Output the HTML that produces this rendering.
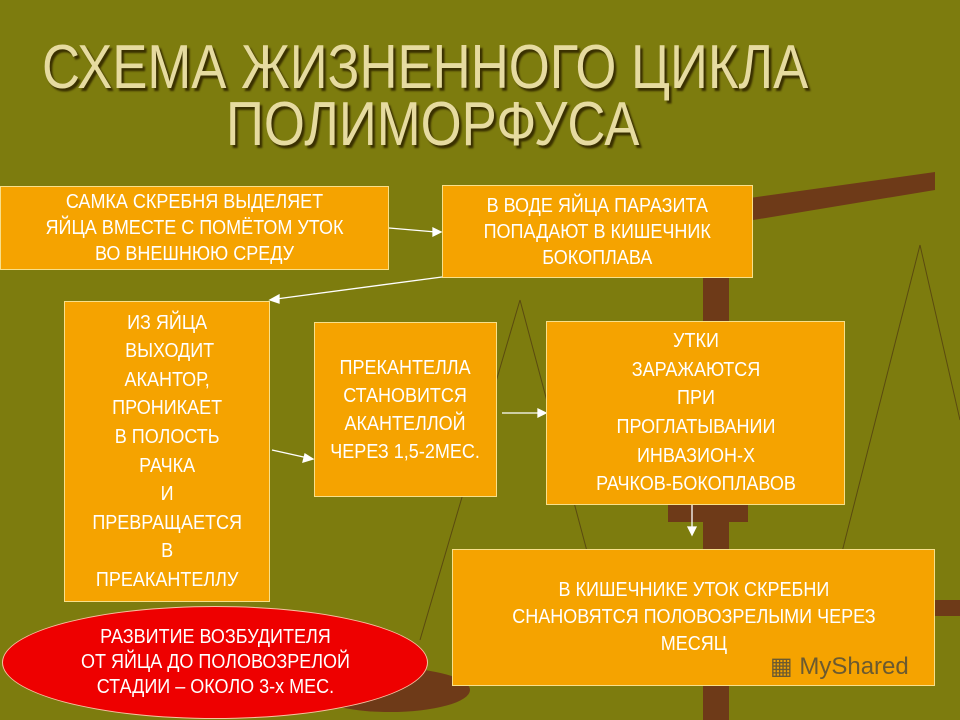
<!DOCTYPE html>
<html><head><meta charset="utf-8"><style>
body{margin:0;width:960px;height:720px;overflow:hidden;background:#7d7c0e;position:relative;font-family:"Liberation Sans",sans-serif;}
.t{position:absolute;color:#e6dba0;font-size:62px;line-height:62px;text-shadow:3px 3px 2px #3a3000;white-space:nowrap;transform:scaleX(.85);transform-origin:0 0;}
.b{position:absolute;background:#f5a300;border:1px solid #f8e08a;color:#fff;text-align:center;display:flex;align-items:center;justify-content:center;font-size:20px;line-height:28px;box-sizing:border-box;white-space:nowrap;}
.b span,.e span{display:inline-block;transform:scaleX(.9);}
</style></head><body>
<svg width="960" height="720" style="position:absolute;left:0;top:0">
<polygon points="700,205 935,172 935,190 705,228" fill="#6e3a18"/>
<rect x="703" y="230" width="26" height="490" fill="#6e3a18"/>
<rect x="668" y="500" width="80" height="22" fill="#6e3a18"/>
<rect x="930" y="600" width="30" height="16" fill="#6e3a18"/>
<line x1="520" y1="300" x2="420" y2="640" stroke="#5a4a10" stroke-width="1"/>
<line x1="520" y1="300" x2="600" y2="600" stroke="#5a4a10" stroke-width="1"/>
<line x1="920" y1="245" x2="840" y2="560" stroke="#5a4a10" stroke-width="1"/>
<line x1="920" y1="245" x2="960" y2="420" stroke="#5a4a10" stroke-width="1"/>
<ellipse cx="390" cy="690" rx="80" ry="22" fill="#6e3a18"/>
<g stroke="#fff" stroke-width="1.3" fill="#fff">
<line x1="389" y1="228" x2="436" y2="232"/><polygon points="441,232 433,228 433,236"/>
<line x1="442" y1="277" x2="276" y2="299"/><polygon points="270,300 279,295 279,303"/>
<line x1="272" y1="450" x2="308" y2="458"/><polygon points="313,459 305,454 303,462"/>
<line x1="502" y1="413" x2="541" y2="413"/><polygon points="546,413 538,409 538,417"/>
<line x1="692" y1="505" x2="692" y2="530"/><polygon points="692,535 688,527 696,527"/>
</g>
</svg>
<div class="t" style="left:42px;top:37px">СХЕМА ЖИЗНЕННОГО ЦИКЛА</div>
<div class="t" style="left:226px;top:94px">ПОЛИМОРФУСА</div>
<div class="b" style="left:0;top:186px;width:389px;height:84px;line-height:26px"><span>САМКА СКРЕБНЯ ВЫДЕЛЯЕТ<br>ЯЙЦА ВМЕСТЕ С ПОМЁТОМ УТОК<br>ВО ВНЕШНЮЮ СРЕДУ</span></div>
<div class="b" style="left:442px;top:185px;width:311px;height:93px;line-height:26px"><span>В ВОДЕ ЯЙЦА ПАРАЗИТА<br>ПОПАДАЮТ В КИШЕЧНИК<br>БОКОПЛАВА</span></div>
<div class="b" style="left:64px;top:301px;width:206px;height:301px;line-height:28.6px"><span>ИЗ ЯЙЦА<br>&nbsp;ВЫХОДИТ<br>АКАНТОР,<br>ПРОНИКАЕТ<br>В ПОЛОСТЬ<br>РАЧКА<br>И<br>ПРЕВРАЩАЕТСЯ<br>В<br>ПРЕАКАНТЕЛЛУ</span></div>
<div class="b" style="left:314px;top:322px;width:183px;height:175px;overflow:visible"><span>ПРЕКАНТЕЛЛА<br>СТАНОВИТСЯ<br>АКАНТЕЛЛОЙ<br>ЧЕРЕЗ 1,5-2МЕС.</span></div>
<div class="b" style="left:546px;top:321px;width:299px;height:184px;line-height:28.6px"><span>УТКИ<br>ЗАРАЖАЮТСЯ<br>ПРИ<br>ПРОГЛАТЫВАНИИ<br>ИНВАЗИОН-Х<br>РАЧКОВ-БОКОПЛАВОВ</span></div>
<div class="b" style="left:452px;top:549px;width:483px;height:137px;line-height:27px"><span>В КИШЕЧНИКЕ УТОК СКРЕБНИ<br>СНАНОВЯТСЯ ПОЛОВОЗРЕЛЫМИ ЧЕРЕЗ<br>МЕСЯЦ</span></div>
<div style="position:absolute;left:770px;top:652px;color:#6b5a30;font-size:24px">▦ MyShared</div>
<div class="e" style="position:absolute;left:2px;top:606px;width:426px;height:113px;border-radius:50%;background:#ee0000;border:1px solid #f8c0a0;color:#fff;font-size:20px;line-height:25px;text-align:center;display:flex;align-items:center;justify-content:center;box-sizing:border-box;white-space:nowrap"><span>РАЗВИТИЕ ВОЗБУДИТЕЛЯ<br>ОТ ЯЙЦА ДО ПОЛОВОЗРЕЛОЙ<br>СТАДИИ – ОКОЛО 3-х МЕС.</span></div>
</body></html>
